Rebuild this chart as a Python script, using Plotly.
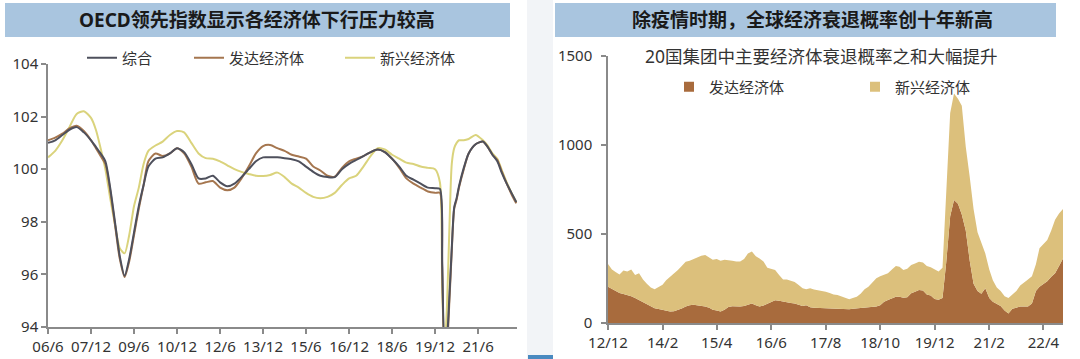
import plotly.graph_objects as go
import pandas as pd

# ---------------- Left panel data: OECD leading indicators ----------------
oecd_dates = [
    "2006-06", "2006-09", "2006-12",
    "2007-03", "2007-06", "2007-09", "2007-12",
    "2008-02", "2008-04", "2008-06", "2008-08", "2008-10", "2008-12",
    "2009-02", "2009-04", "2009-06", "2009-08", "2009-10", "2009-12",
    "2010-03", "2010-06", "2010-09", "2010-12",
    "2011-03", "2011-06", "2011-09", "2011-12",
    "2012-03", "2012-06", "2012-09", "2012-12",
    "2013-03", "2013-06", "2013-09", "2013-12",
    "2014-03", "2014-06", "2014-09", "2014-12",
    "2015-03", "2015-06", "2015-09", "2015-12",
    "2016-03", "2016-06", "2016-09", "2016-12",
    "2017-03", "2017-06", "2017-09", "2017-12",
    "2018-03", "2018-06", "2018-09", "2018-12",
    "2019-03", "2019-06", "2019-09", "2019-12",
    "2020-02", "2020-03", "2020-04", "2020-05", "2020-06", "2020-07",
    "2020-08", "2020-09", "2020-10", "2020-12",
    "2021-02", "2021-05", "2021-08", "2021-10", "2021-12",
    "2022-02", "2022-04", "2022-06", "2022-08", "2022-10",
]
oecd_composite = [
    101.0, 101.1, 101.3,
    101.5, 101.6, 101.4, 101.1,
    100.85, 100.6, 100.3, 99.3, 98.0, 96.7,
    95.95, 96.6, 97.6, 98.6, 99.4, 100.1,
    100.4, 100.45, 100.6, 100.8,
    100.65, 100.2, 99.65, 99.65,
    99.75, 99.5, 99.35, 99.45,
    99.7, 100.0, 100.3, 100.45,
    100.45, 100.45, 100.42, 100.38,
    100.3, 100.1, 99.9, 99.75,
    99.7, 99.7, 100.0, 100.2,
    100.35, 100.5, 100.65, 100.75,
    100.65, 100.4, 100.1, 99.75,
    99.6, 99.45, 99.3, 99.28,
    99.25, 96.4, 93.2, 93.6, 95.2, 97.0,
    98.55, 98.9, 99.35, 100.05,
    100.6, 100.95, 101.05, 100.85, 100.55,
    100.3, 99.85, 99.45, 99.1, 98.75,
]
oecd_developed = [
    101.1, 101.2, 101.35,
    101.55, 101.65, 101.45, 101.1,
    100.8, 100.5, 100.2, 99.2, 97.9, 96.6,
    95.9, 96.5, 97.5, 98.5, 99.4, 100.3,
    100.6, 100.5, 100.6, 100.8,
    100.6, 100.1, 99.45, 99.5,
    99.55, 99.3, 99.2, 99.3,
    99.65, 100.1, 100.6, 100.88,
    100.92, 100.8, 100.7, 100.55,
    100.48, 100.4, 100.1, 99.95,
    99.75, 99.72, 100.05, 100.3,
    100.4, 100.5, 100.65, 100.75,
    100.65, 100.4, 100.05, 99.65,
    99.45, 99.3, 99.15, 99.1,
    99.1, 96.3, 93.1, 93.4, 95.0, 96.9,
    98.5, 98.85, 99.3, 100.0,
    100.6, 100.95, 101.05, 100.85, 100.55,
    100.35, 99.9, 99.45, 99.05, 98.7,
]
oecd_emerging = [
    100.45, 100.7, 101.1,
    101.6, 102.1, 102.2, 101.95,
    101.5, 100.8, 100.0, 98.9, 97.9, 97.0,
    96.8, 97.5, 98.6, 99.3, 100.2, 100.7,
    100.9, 101.05, 101.3, 101.45,
    101.4, 101.0, 100.6, 100.42,
    100.4, 100.3, 100.15, 100.0,
    99.9, 99.82, 99.75, 99.74,
    99.78, 99.87, 99.7, 99.45,
    99.3, 99.1, 98.95, 98.9,
    98.95, 99.1, 99.4, 99.65,
    99.75, 100.1, 100.5, 100.8,
    100.75, 100.55, 100.4, 100.25,
    100.2, 100.1, 100.05, 100.0,
    99.5, 95.5, 93.0, 94.8, 97.8, 100.2,
    100.8, 101.0, 101.1, 101.1,
    101.15, 101.3, 101.1, 100.9, 100.6,
    100.4, 99.95, 99.5, 99.1, 98.75,
]
oecd_tickvals = ["2006-06-01", "2007-12-01", "2009-06-01", "2010-12-01", "2012-06-01",
                 "2013-12-01", "2015-06-01", "2016-12-01", "2018-06-01", "2019-12-01",
                 "2021-06-01"]
oecd_ticktext = ["06/6", "07/12", "09/6", "10/12", "12/6", "13/12", "15/6", "16/12",
                 "18/6", "19/12", "21/6"]

# ---------------- Right panel data: G20 recession probability sum ----------------
rec_start = "2012-12-01"
rec_developed = [
    204, 190, 178, 168, 163, 158, 150, 140, 128, 118, 108, 95,
    83, 78, 73, 68, 65, 66, 72, 82, 92, 100, 103, 100,
    98, 92, 85, 75, 70, 65, 75, 90, 94, 92, 92, 96,
    105, 110, 100, 92, 98, 108, 118, 128, 125, 120, 116, 112,
    110, 101, 95, 100, 88, 85, 84, 82, 82, 80, 81, 82,
    80, 78, 77, 80, 82, 86, 90, 92, 92, 92, 100, 120,
    129, 140, 148, 148, 142, 145, 167, 175, 185, 183, 160, 155,
    135, 130, 140, 340, 600, 691, 670, 610, 520, 350, 220, 180,
    165, 195, 140, 120, 105, 95, 70, 54, 80, 88, 92, 92,
    92, 110, 180, 204, 220, 235, 260, 279, 320, 363,
]
rec_emerging = [
    127, 110, 107, 104, 132, 132, 150, 130, 151, 127, 112, 105,
    106, 122, 142, 172, 193, 209, 226, 238, 252, 250, 257, 272,
    280, 290, 285, 281, 290, 285, 280, 264, 256, 253, 254, 264,
    285, 291, 275, 271, 247, 202, 187, 170, 145, 125, 129, 126,
    120, 112, 100, 90, 107, 103, 101, 98, 94, 88, 79, 75,
    70, 62, 56, 60, 66, 79, 100, 112, 133, 159, 162, 150,
    150, 160, 172, 168, 156, 160, 159, 159, 159, 157, 160, 158,
    165, 160, 170, 380, 580, 599, 590, 610, 470, 470, 420, 330,
    283, 195, 160, 120, 95, 85, 80, 86, 80, 92, 118, 138,
    153, 152, 150, 216, 225, 231, 260, 301, 295, 277,
]
rec_dates = pd.date_range(rec_start, periods=len(rec_developed), freq="MS")
rec_tickvals = ["2012-12-01", "2014-02-01", "2015-04-01", "2016-06-01", "2017-08-01",
                "2018-10-01", "2019-12-01", "2021-02-01", "2022-04-01"]
rec_ticktext = ["12/12", "14/2", "15/4", "16/6", "17/8", "18/10", "19/12", "21/2", "22/4"]

# ---------------- Styling ----------------
W, H = 1080, 359
FONT = "Noto Sans, Noto Sans CJK SC, sans-serif"
C_COMP, C_DEV, C_EMG = "#4e505c", "#a5764f", "#dad37c"
A_DEV, A_EMG = "#a86b3d", "#dcc07c"
AX = "#8a8a8a"


def px(x):
    return x / W


def py(y):
    return 1 - y / H


fig = go.Figure()

# Left lines
fig.add_trace(go.Scatter(x=oecd_dates, y=oecd_emerging, name="新兴经济体", mode="lines",
                         line=dict(color=C_EMG, width=2, shape="spline", smoothing=0.7),
                         legend="legend3", xaxis="x", yaxis="y"))
fig.add_trace(go.Scatter(x=oecd_dates, y=oecd_developed, name="发达经济体", mode="lines",
                         line=dict(color=C_DEV, width=2, shape="spline", smoothing=0.7),
                         legend="legend2", xaxis="x", yaxis="y"))
fig.add_trace(go.Scatter(x=oecd_dates, y=oecd_composite, name="综合", mode="lines",
                         line=dict(color=C_COMP, width=2, shape="spline", smoothing=0.7),
                         legend="legend", xaxis="x", yaxis="y"))

# Right stacked areas
fig.add_trace(go.Scatter(x=rec_dates, y=rec_developed, name="发达经济体", mode="lines",
                         stackgroup="rec", line=dict(width=0, color=A_DEV), fillcolor=A_DEV,
                         showlegend=False, xaxis="x2", yaxis="y2"))
fig.add_trace(go.Scatter(x=rec_dates, y=rec_emerging, name="新兴经济体", mode="lines",
                         stackgroup="rec", line=dict(width=0, color=A_EMG), fillcolor=A_EMG,
                         showlegend=False, xaxis="x2", yaxis="y2"))
# legend swatches for the areas
fig.add_trace(go.Scatter(x=[None], y=[None], name="发达经济体", mode="markers",
                         marker=dict(symbol="square", size=10, color=A_DEV),
                         legend="legend4", xaxis="x2", yaxis="y2"))
fig.add_trace(go.Scatter(x=[None], y=[None], name="新兴经济体", mode="markers",
                         marker=dict(symbol="square", size=10, color=A_EMG),
                         legend="legend5", xaxis="x2", yaxis="y2"))

tickfont = dict(family=FONT, size=15, color="#333333")
axis_common = dict(showline=True, linecolor=AX, linewidth=1.5, ticks="outside",
                   tickcolor=AX, ticklen=5, tickwidth=1.5, showgrid=False,
                   zeroline=False, tickfont=tickfont)

fig.update_layout(
    width=W, height=H,
    margin=dict(l=0, r=0, t=0, b=0, autoexpand=False),
    paper_bgcolor="white", plot_bgcolor="white",
    font=dict(family=FONT, color="#333333"),
    xaxis=dict(domain=[px(48), px(517)], type="date",
               range=["2006-06-01", "2022-10-10"],
               tickmode="array", tickvals=oecd_tickvals, ticktext=oecd_ticktext,
               anchor="y", **axis_common),
    yaxis=dict(domain=[py(327), py(64)], range=[94, 104], tickvals=[94, 96, 98, 100, 102, 104],
               anchor="x", **axis_common),
    xaxis2=dict(domain=[px(608), px(1063)], type="date",
                range=["2012-12-01", "2022-09-01"],
                tickmode="array", tickvals=rec_tickvals, ticktext=rec_ticktext,
                anchor="y2", **axis_common),
    yaxis2=dict(domain=[py(323), py(56)], range=[0, 1500], tickvals=[0, 500, 1000, 1500],
                anchor="x2", ticklabelstandoff=6, **axis_common),
    showlegend=True,
)

leg_common = dict(orientation="h", xanchor="left", yanchor="middle",
                  bgcolor="rgba(0,0,0,0)", borderwidth=0,
                  font=dict(family=FONT, size=15, color="#333333"),
                  itemwidth=30, tracegroupgap=0)
fig.update_layout(
    legend=dict(x=px(82), y=py(58), **leg_common),
    legend2=dict(x=px(189), y=py(58), **leg_common),
    legend3=dict(x=px(340), y=py(58), **leg_common),
    legend4=dict(x=px(669), y=py(87), **leg_common),
    legend5=dict(x=px(855), y=py(87), **leg_common),
)

# Header bars, panel separator
shapes = [
    dict(type="rect", xref="paper", yref="paper", x0=px(527), x1=px(553), y0=0, y1=1,
         fillcolor="#f2f4f7", line=dict(width=0), layer="below"),
    dict(type="rect", xref="paper", yref="paper", x0=px(5), x1=px(510), y0=py(37), y1=py(3),
         fillcolor="#a9c5df", line=dict(width=0), layer="below"),
    dict(type="rect", xref="paper", yref="paper", x0=px(555), x1=px(1056), y0=py(37), y1=py(3),
         fillcolor="#a9c5df", line=dict(width=0), layer="below"),
    dict(type="rect", xref="paper", yref="paper", x0=px(528), x1=px(553), y0=0, y1=py(355),
         fillcolor="#4a8ac0", line=dict(width=0), layer="below"),
]
fig.update_layout(shapes=shapes)

annotations = [
    dict(text="<b>OECD领先指数显示各经济体下行压力较高</b>", x=px(257), y=py(20),
         xref="paper", yref="paper", showarrow=False, xanchor="center", yanchor="middle",
         font=dict(family=FONT, size=19, color="#1a1a1a")),
    dict(text="<b>除疫情时期，全球经济衰退概率创十年新高</b>", x=px(812), y=py(20),
         xref="paper", yref="paper", showarrow=False, xanchor="center", yanchor="middle",
         font=dict(family=FONT, size=19, color="#1a1a1a")),
    dict(text="20国集团中主要经济体衰退概率之和大幅提升", x=px(821), y=py(56),
         xref="paper", yref="paper", showarrow=False, xanchor="center", yanchor="middle",
         font=dict(family=FONT, size=17.5, color="#333333")),
]
fig.update_layout(annotations=annotations)

fig.write_html("out.html",
               config={"displayModeBar": False},
               post_script="document.body.style.margin='0px';document.body.style.overflow='hidden';")
